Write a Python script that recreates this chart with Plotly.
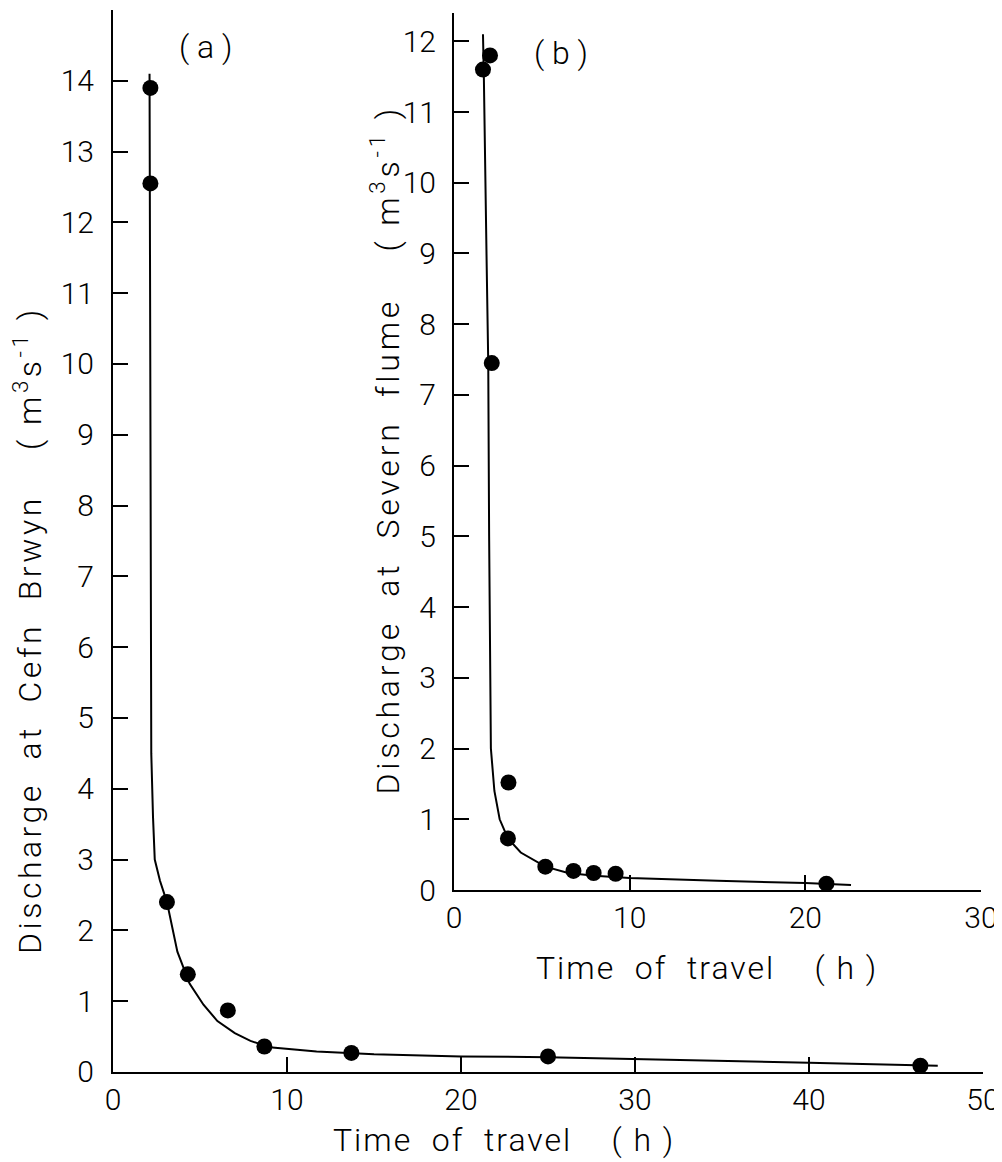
import plotly.graph_objects as go

# ---------------- data ----------------
# Panel (a): discharge at Cefn Brwyn vs time of travel
a_obs_time = [2.15, 2.15, 3.1, 4.3, 6.6, 8.7, 13.7, 25.0, 46.4]
a_obs_q = [13.9, 12.55, 2.4, 1.38, 0.87, 0.36, 0.27, 0.22, 0.09]
a_fit_time = [2.1, 2.12, 2.15, 2.2, 2.3, 2.4, 2.7, 3.1, 3.7, 4.4, 5.2, 6.0,
              7.0, 7.9, 9.0, 11.7, 15.0, 20.0, 25.0, 30.0, 40.0, 47.4]
a_fit_q = [14.1, 12.0, 8.0, 4.5, 3.6, 3.0, 2.7, 2.4, 1.7, 1.25, 0.95, 0.72,
           0.55, 0.44, 0.35, 0.29, 0.25, 0.22, 0.21, 0.18, 0.13, 0.09]

# Panel (b): discharge at Severn flume vs time of travel
b_obs_time = [1.65, 2.05, 2.15, 3.1, 3.07, 5.2, 6.8, 7.95, 9.2, 21.2]
b_obs_q = [11.6, 11.8, 7.45, 1.52, 0.73, 0.33, 0.27, 0.24, 0.23, 0.09]
b_fit_time = [1.65, 1.7, 1.85, 1.95, 2.0, 2.05, 2.1, 2.3, 2.6, 3.07, 3.8,
              5.2, 6.5, 8.0, 10.0, 15.0, 20.0, 22.6]
b_fit_q = [12.1, 11.5, 9.0, 7.45, 5.0, 3.0, 2.0, 1.4, 1.0, 0.73, 0.53,
           0.33, 0.24, 0.2, 0.17, 0.13, 0.1, 0.07]

a_x_ticks = [0, 10, 20, 30, 40, 50]
a_y_ticks = list(range(0, 15))
b_x_ticks = [0, 10, 20, 30]
b_y_ticks = list(range(0, 13))

FONT = "Roboto"
INK = "black"

# the page body has an 8 px margin, so the figure is sized to the visible area
W, H = 994, 1154

fig = go.Figure()

fig.add_trace(go.Scatter(x=a_fit_time, y=a_fit_q, mode="lines",
                         line=dict(color=INK, width=2), xaxis="x", yaxis="y",
                         hoverinfo="skip"))
fig.add_trace(go.Scatter(x=a_obs_time, y=a_obs_q, mode="markers",
                         marker=dict(color=INK, size=16), xaxis="x", yaxis="y"))
fig.add_trace(go.Scatter(x=b_fit_time, y=b_fit_q, mode="lines",
                         line=dict(color=INK, width=2), xaxis="x2", yaxis="y2",
                         hoverinfo="skip"))
fig.add_trace(go.Scatter(x=b_obs_time, y=b_obs_q, mode="markers",
                         marker=dict(color=INK, size=16), xaxis="x2", yaxis="y2"))

common = dict(showgrid=False, zeroline=False, showline=True, linecolor=INK,
              linewidth=2, ticks="inside", ticklen=15, tickwidth=1.5,
              tickcolor=INK, automargin=False,
              tickfont=dict(family=FONT, size=30, color=INK, weight=300))

fig.update_layout(
    template="none",
    width=W, height=H,
    margin=dict(l=0, r=0, t=0, b=0, autoexpand=False),
    paper_bgcolor="white", plot_bgcolor="white",
    showlegend=False,
    xaxis=dict(domain=[0.10563, 0.98089], range=[0, 50], tickvals=a_x_ticks,
               anchor="y", ticklabelstandoff=0, **common),
    yaxis=dict(domain=[0.07799, 0.99827], range=[0, 15], tickvals=a_y_ticks,
               anchor="x", ticklabelstandoff=11, **common),
    xaxis2=dict(domain=[0.44869, 0.97887], range=[0, 30], tickvals=b_x_ticks,
                anchor="y2", ticklabelstandoff=0, **common),
    yaxis2=dict(domain=[0.2357, 0.99567], range=[0, 12.4], tickvals=b_y_ticks,
                anchor="x2", ticklabelstandoff=10, **common),
)


def spaced(txt, px):
    return '<span style="letter-spacing:%spx">%s</span>' % (px, txt)


tfont = dict(family=FONT, size=32, color=INK, weight=300)
ann = dict(xref="paper", yref="paper", showarrow=False, font=tfont,
           xanchor="center", yanchor="middle")
fig.add_annotation(text=spaced("Discharge  at  Cefn  Brwyn    ( m<sup>3</sup>s<sup>-1</sup> )", 3.5),
                   x=0.0201, y=0.461, textangle=-90, **ann)
fig.add_annotation(text=spaced("Discharge  at  Severn  flume    ( m<sup>3</sup>s<sup>-1</sup> )", 3.8),
                   x=0.3793, y=0.6165, textangle=-90, **ann)
fig.add_annotation(text=spaced("Time  of  travel    ( h )", 2), x=0.499, y=0.0191, **ann)
fig.add_annotation(text=spaced("Time  of  travel    ( h )", 2), x=0.7032, y=0.1681, **ann)
fig.add_annotation(text="( a )", x=0.1982, y=0.966, **ann)
fig.add_annotation(text="( b )", x=0.5563, y=0.961, **ann)

fig.write_html("out.html")
